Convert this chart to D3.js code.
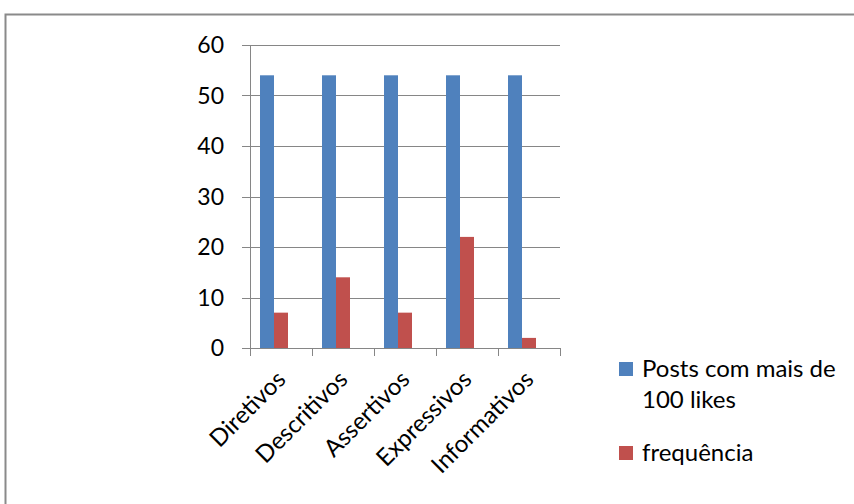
<!DOCTYPE html>
<html>
<head>
<meta charset="utf-8">
<script src="https://cdn.jsdelivr.net/npm/d3@7"></script>
<style>
  html, body { margin: 0; padding: 0; background: #fff; }
  svg { display: block; }
  text { font-family: Lato, "Open Sans", sans-serif; fill: #000; }
</style>
</head>
<body>
<svg id="chart" width="854" height="504"></svg>
<script>
// Speech-act categories and counts
const categories = ["Diretivos", "Descritivos", "Assertivos", "Expressivos", "Informativos"];
const seriesNames = ["Posts com mais de 100 likes", "frequência"];
const postsValues = [54, 54, 54, 54, 54];
const frequenciaValues = [7, 14, 7, 22, 2];
const yTicks = [0, 10, 20, 30, 40, 50, 60];
const colors = ["#4F81BD", "#C0504D"];

const svg = d3.select("#chart");

// Outer frame
svg.append("rect")
  .attr("x", 5.5).attr("y", 14.5)
  .attr("width", 900).attr("height", 600)
  .attr("fill", "none").attr("stroke", "#8a8a8a").attr("stroke-width", 2);

const plot = { left: 250, right: 560, top: 45, bottom: 348 };

const y = d3.scaleLinear().domain([0, 60]).range([plot.bottom, plot.top]);

const x0 = d3.scaleBand()
  .domain(categories)
  .range([plot.left, plot.right])
  .paddingInner(20 / 62)
  .paddingOuter(10 / 62);

// three slots per category; the third slot is left empty
const x1 = d3.scaleBand().domain([0, 1, 2]).range([0, x0.bandwidth()]).padding(0);

const g = svg.append("g");

// horizontal gridlines
g.selectAll("line.grid")
  .data(yTicks)
  .join("line")
  .attr("class", "grid")
  .attr("x1", plot.left - 8).attr("x2", plot.right)
  .attr("y1", d => Math.round(y(d)) + 0.5).attr("y2", d => Math.round(y(d)) + 0.5)
  .attr("stroke", "#868686").attr("stroke-width", 1);

// y axis line
g.append("line")
  .attr("x1", plot.left + 0.5).attr("x2", plot.left + 0.5)
  .attr("y1", plot.top).attr("y2", plot.bottom)
  .attr("stroke", "#868686");

// y labels
g.selectAll("text.ylab")
  .data(yTicks)
  .join("text")
  .attr("class", "ylab")
  .attr("x", 224)
  .attr("y", d => y(d))
  .attr("dy", "0.36em")
  .attr("text-anchor", "end")
  .attr("font-size", 23)
  .text(d => d);

// bars
const seriesData = [postsValues, frequenciaValues];
seriesData.forEach((vals, si) => {
  g.selectAll("rect.s" + si)
    .data(vals)
    .join("rect")
    .attr("class", "s" + si)
    .attr("x", (d, i) => x0(categories[i]) + x1(si))
    .attr("width", x1.bandwidth())
    .attr("y", d => y(d))
    .attr("height", d => y(0) - y(d))
    .attr("fill", colors[si]);
});

// x axis line and category boundary ticks
g.append("line")
  .attr("x1", plot.left).attr("x2", plot.right)
  .attr("y1", plot.bottom + 0.5).attr("y2", plot.bottom + 0.5)
  .attr("stroke", "#868686");

const step = x0.step();
const boundaries = d3.range(categories.length + 1).map(i => plot.left + i * step);
g.selectAll("line.xtick")
  .data(boundaries)
  .join("line")
  .attr("class", "xtick")
  .attr("x1", d => Math.round(d) + 0.5).attr("x2", d => Math.round(d) + 0.5)
  .attr("y1", plot.bottom).attr("y2", plot.bottom + 8)
  .attr("stroke", "#868686");

// rotated category labels
g.selectAll("text.xlab")
  .data(categories)
  .join("text")
  .attr("class", "xlab")
  .attr("text-anchor", "end")
  .attr("font-size", 24)
  .attr("transform", (d, i) => {
    const cx = boundaries[i] + step / 2 + 6;
    return `translate(${cx},${plot.bottom + 33}) rotate(-45)`;
  })
  .text(d => d);

// legend
const legend = svg.append("g");
const legendItems = [
  { lines: ["Posts com mais de", "100 likes"], y: 362 },
  { lines: ["frequência"], y: 446 }
];
legendItems.forEach((item, i) => {
  legend.append("rect")
    .attr("x", 619).attr("y", item.y)
    .attr("width", 14).attr("height", 14)
    .attr("fill", colors[i]);
  const t = legend.append("text")
    .attr("x", 642).attr("y", item.y + 15)
    .attr("font-size", 24);
  item.lines.forEach((ln, k) => {
    t.append("tspan").attr("x", 642).attr("dy", k === 0 ? 0 : 31).text(ln);
  });
});
</script>
</body>
</html>
